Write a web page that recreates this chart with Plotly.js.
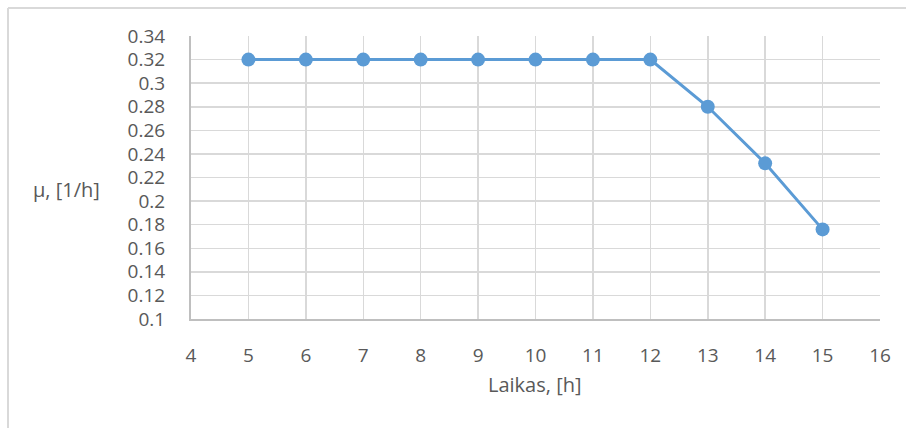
<!DOCTYPE html>
<html>
<head>
<meta charset="utf-8">
<script src="https://cdn.plot.ly/plotly-3.0.1.min.js"></script>
<style>html,body{margin:0;padding:0;background:#fff;}#chart{width:906px;height:428px;}</style>
</head>
<body>
<div id="chart"></div>
<script>
var hours = [5, 6, 7, 8, 9, 10, 11, 12, 13, 14, 15];
var mu = [0.32, 0.32, 0.32, 0.32, 0.32, 0.32, 0.32, 0.32, 0.28, 0.232, 0.176];
var xTickVals = [4, 5, 6, 7, 8, 9, 10, 11, 12, 13, 14, 15, 16];
var yTickVals = [0.1, 0.12, 0.14, 0.16, 0.18, 0.2, 0.22, 0.24, 0.26, 0.28, 0.3, 0.32, 0.34];
var yTickText = ["0.1", "0.12", "0.14", "0.16", "0.18", "0.2", "0.22", "0.24", "0.26", "0.28", "0.3", "0.32", "0.34"];
var xTitle = "Laikas, [h]";
var yTitle = "μ, [1/h]";

var font = "Open Sans, sans-serif";
var trace = {
  x: hours, y: mu, type: "scatter", mode: "lines+markers",
  line: {color: "#5B9BD5", width: 3},
  marker: {color: "#5B9BD5", size: 14},
  hoverinfo: "none"
};
var layout = {
  width: 906, height: 428,
  margin: {l: 191, r: 26, t: 36, b: 109},
  paper_bgcolor: "#fff", plot_bgcolor: "#fff",
  showlegend: false,
  font: {family: font, color: "#595959", size: 19},
  xaxis: {
    range: [4, 16], tickvals: xTickVals, showgrid: true, gridcolor: "#d9d9d9", gridwidth: 1.5,
    zeroline: false, showline: true, linecolor: "#bfbfbf", linewidth: 2,
    ticks: "", ticklabelstandoff: 18, tickfont: {family: font, size: 19, color: "#595959"}
  },
  yaxis: {
    range: [0.1, 0.34], tickvals: yTickVals, ticktext: yTickText, showgrid: true, gridcolor: "#d9d9d9", gridwidth: 1.5,
    zeroline: false, showline: true, linecolor: "#bfbfbf", linewidth: 2,
    ticks: "", ticklabelstandoff: 20, tickfont: {family: font, size: 19, color: "#595959"}
  },
  annotations: [
    {text: yTitle, xref: "paper", yref: "paper", x: -0.18, y: 0.456, showarrow: false,
     font: {family: font, size: 20, color: "#595959"}, xanchor: "center", yanchor: "middle"},
    {text: xTitle, xref: "paper", yref: "paper", x: 0.499, y: -0.233, showarrow: false,
     font: {family: font, size: 20, color: "#595959"}, xanchor: "center", yanchor: "middle"}
  ],
  shapes: [
    {type: "line", xref: "paper", yref: "paper", x0: -0.2656, x1: -0.2656, y0: -0.5, y1: 1.099,
     line: {color: "#d9d9d9", width: 2}},
    {type: "line", xref: "paper", yref: "paper", x0: -0.2656, x1: 1.5, y0: 1.099, y1: 1.099,
     line: {color: "#d9d9d9", width: 2}}
  ]
};
Plotly.newPlot("chart", [trace], layout, {displayModeBar: false, staticPlot: true});
</script>
</body>
</html>
